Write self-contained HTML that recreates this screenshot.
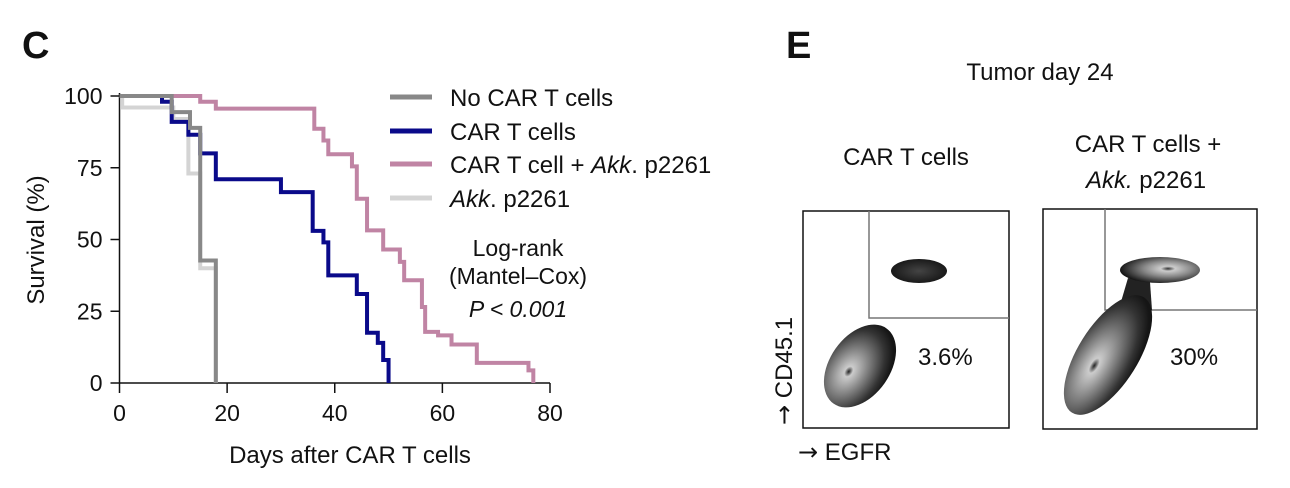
<!DOCTYPE html>
<html><head><meta charset="utf-8"><style>
html,body{margin:0;padding:0;background:#fff;width:1290px;height:488px;overflow:hidden}
svg text{font-family:"Liberation Sans",Arial,sans-serif;fill:#111}
.ar{font-family:"DejaVu Sans",sans-serif}
</style></head><body>
<svg width="1290" height="488" viewBox="0 0 1290 488">
<defs>
<radialGradient id="g1" cx="40%" cy="62%" r="62%"><stop offset="0" stop-color="#222"/><stop offset="0.1" stop-color="#ccc"/><stop offset="0.4" stop-color="#8a8a8a"/><stop offset="0.8" stop-color="#333"/><stop offset="1" stop-color="#151515"/></radialGradient>
<radialGradient id="g2" cx="50%" cy="50%" r="55%"><stop offset="0" stop-color="#444"/><stop offset="1" stop-color="#151515"/></radialGradient>
<radialGradient id="g3" cx="60%" cy="45%" r="60%"><stop offset="0" stop-color="#333"/><stop offset="0.15" stop-color="#ccc"/><stop offset="0.5" stop-color="#888"/><stop offset="1" stop-color="#151515"/></radialGradient>
</defs>
<text x="22" y="58" font-size="38" font-weight="bold">C</text>
<text x="786" y="58" font-size="38" font-weight="bold">E</text>
<g id="chart"></g>

<g>
<line x1="390" y1="97" x2="432" y2="97" stroke="#888" stroke-width="5"/>
<text x="450" y="106" font-size="24">No CAR T cells</text>
<line x1="390" y1="131" x2="432" y2="131" stroke="#0a0a8a" stroke-width="5"/>
<text x="450" y="140" font-size="24">CAR T cells</text>
<line x1="390" y1="164" x2="432" y2="164" stroke="#c084a4" stroke-width="5"/>
<text x="450" y="173" font-size="24">CAR T cell + <tspan font-style="italic">Akk</tspan>. p2261</text>
<line x1="390" y1="198" x2="432" y2="198" stroke="#d4d4d4" stroke-width="5"/>
<text x="450" y="207" font-size="24"><tspan font-style="italic">Akk</tspan>. p2261</text>
</g>
<g font-size="23" text-anchor="middle">
<text x="518" y="256">Log-rank</text>
<text x="518" y="284">(Mantel–Cox)</text>
<text x="518" y="317" font-style="italic">P &lt; 0.001</text>
</g>

<g>
<text x="1040" y="80" font-size="24" text-anchor="middle">Tumor day 24</text>
<text x="906" y="165" font-size="24" text-anchor="middle">CAR T cells</text>
<text x="1148" y="152" font-size="24" text-anchor="middle">CAR T cells +</text>
<text x="1146" y="188" font-size="24" text-anchor="middle"><tspan font-style="italic">Akk.</tspan> p2261</text>
<text transform="translate(792,425) rotate(-90)" font-size="24"><tspan class="ar">→</tspan> CD45.1</text>
<text x="798" y="460" font-size="24"><tspan class="ar">→</tspan> EGFR</text>
<g>
<rect x="803" y="211" width="206" height="217" fill="#fff" stroke="#111" stroke-width="1.5"/>
<polyline points="869,211 869,318 1009,318" fill="none" stroke="#777" stroke-width="1.5"/>
<ellipse cx="919" cy="271" rx="28" ry="12" fill="url(#g2)"/>
<ellipse cx="860" cy="366" rx="30" ry="46" transform="rotate(35 860 366)" fill="url(#g1)"/>
<text x="918" y="365" font-size="24">3.6%</text>
</g>
<g>
<rect x="1043" y="209" width="214" height="220" fill="#fff" stroke="#111" stroke-width="1.5"/>
<polyline points="1105,209 1105,310 1257,310" fill="none" stroke="#777" stroke-width="1.5"/>
<polygon points="1128,278 1150,282 1152,310 1140,322 1118,312" fill="#222"/>
<ellipse cx="1160" cy="270" rx="40" ry="13" fill="url(#g3)"/>
<ellipse cx="1108" cy="355" rx="30" ry="68" transform="rotate(32 1108 355)" fill="url(#g1)"/>
<text x="1170" y="365" font-size="24">30%</text>
</g>
</g>
</svg>
<script>
const xTicks=[0,20,40,60,80];
const yTicks=[0,25,50,75,100];
const noCarDays=[0,9.7,13.1,15,17.9];
const noCarSurv=[100,94.4,88.9,42.7,0];
const carDays=[0,7.9,9.7,12.8,15,17.9,30,35.9,37.9,38.8,44.1,46,48,49,50];
const carSurv=[100,98,91,86.5,80,71,66.5,53,49,37.5,31,17.5,14,8,0];
const carAkkDays=[0,15,17.9,36.2,37.9,38.8,43.2,44.1,46,49,52.1,52.9,56.2,56.8,59.2,61.7,66.4,76,76.9];
const carAkkSurv=[100,98,95.6,88.6,84.5,79.7,75.5,64.2,53.2,46.5,42.2,35.8,26.5,17.8,16.6,13.4,7,4.4,0];
const akkDays=[0,0.5,10,12.8,15,17.9];
const akkSurv=[100,96,92,73,40,0];
const NS="http://www.w3.org/2000/svg";
const X0=119.5,X1=550,Y0=383,Y1=96;
const xs=d=>X0+(d/80)*(X1-X0);
const ys=v=>Y0-(v/100)*(Y0-Y1);
const g=document.getElementById('chart');
function mk(t,a){const e=document.createElementNS(NS,t);for(const k in a)e.setAttribute(k,a[k]);g.appendChild(e);return e;}
let ax=mk('line',{x1:X0,y1:Y1-3,x2:X0,y2:Y0,stroke:'#111','stroke-width':1.5});


ax=mk('line',{x1:X0,y1:Y0,x2:X1,y2:Y0,stroke:'#111','stroke-width':1.5});


xTicks.forEach(t=>{
 const l=mk('line',{x1:xs(t),y1:Y0,x2:xs(t),y2:Y0+10,stroke:'#111','stroke-width':1.5});
 
 
 const tx=mk('text',{x:xs(t),y:Y0+38,'font-size':23,'text-anchor':'middle'});tx.textContent=t;
 
 
});
yTicks.forEach(t=>{
 const l=mk('line',{x1:X0-9,y1:ys(t),x2:X0,y2:ys(t),stroke:'#111','stroke-width':1.5});
 
 
 const tx=mk('text',{x:X0-17,y:ys(t)+8,'font-size':23,'text-anchor':'end'});tx.textContent=t;
 
 
});
let tt=mk('text',{x:350,y:463,'font-size':24,'text-anchor':'middle'});tt.textContent='Days after CAR T cells';


tt=mk('text',{transform:'translate(44,240) rotate(-90)','font-size':24,'text-anchor':'middle'});tt.textContent='Survival (%)';


function step(days,surv,color,name){
 let p='M'+xs(days[0])+','+ys(surv[0]);
 for(let i=1;i<days.length;i++){p+=' H'+xs(days[i])+' V'+ys(surv[i]);}
 const e=mk('path',{d:p,fill:'none',stroke:color,'stroke-width':4});
 
 
}
step(akkDays,akkSurv,'#d4d4d4','akk-curve');
step(carAkkDays,carAkkSurv,'#c084a4','car-t-akk-curve');
step(carDays,carSurv,'#0a0a8a','car-t-curve');
step(noCarDays,noCarSurv,'#888','no-car-t-curve');
</script>
</body></html>
